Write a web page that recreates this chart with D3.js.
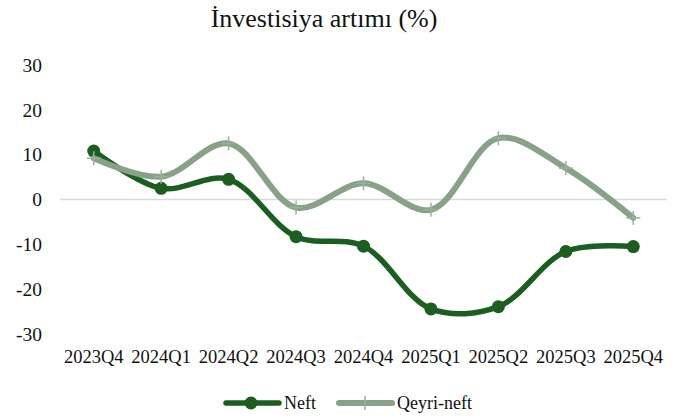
<!DOCTYPE html>
<html>
<head>
<meta charset="utf-8">
<script src="https://cdn.jsdelivr.net/npm/d3@7"></script>
<style>
  body { margin: 0; background: #fff; }
  text { font-family: "Liberation Serif", "Times New Roman", serif; fill: #111; }
</style>
</head>
<body>
<div id="chart"></div>
<script>
const quarters = ["2023Q4", "2024Q1", "2024Q2", "2024Q3", "2024Q4", "2025Q1", "2025Q2", "2025Q3", "2025Q4"];
const neft = [10.8, 2.5, 4.5, -8.3, -10.4, -24.4, -23.9, -11.6, -10.5];
const qeyriNeft = [9.2, 5.1, 12.5, -1.8, 3.6, -2.3, 13.7, 7.0, -4.1];
const yTicks = [30, 20, 10, 0, -10, -20, -30];

const width = 678;
const height = 419;

const svg = d3.select("#chart").append("svg")
    .attr("width", width)
    .attr("height", height);

const x = d3.scaleBand()
    .domain(quarters)
    .range([60, 667]);

const y = d3.scaleLinear()
    .domain([-30, 30])
    .range([334, 65]);

// title
svg.append("text")
    .attr("x", 324)
    .attr("y", 27)
    .attr("text-anchor", "middle")
    .style("font-size", "26px")
    .text("İnvestisiya artımı (%)");

// y labels (no axis line, just numbers)
svg.append("g")
    .selectAll("text")
    .data(yTicks)
    .enter().append("text")
    .attr("x", 42)
    .attr("y", d => y(d))
    .attr("dy", "0.35em")
    .attr("text-anchor", "end")
    .style("font-size", "19.5px")
    .text(d => d);

// zero line
svg.append("line")
    .attr("x1", 60)
    .attr("x2", 667)
    .attr("y1", y(0))
    .attr("y2", y(0))
    .attr("stroke", "#d9d9d9")
    .attr("stroke-width", 1.5);

// x labels
svg.append("g")
    .selectAll("text")
    .data(quarters)
    .enter().append("text")
    .attr("x", d => x(d) + x.bandwidth() / 2)
    .attr("y", 357)
    .attr("dy", "0.35em")
    .attr("text-anchor", "middle")
    .style("font-size", "18.5px")
    .text(d => d);

const line = d3.line()
    .x((d, i) => x(quarters[i]) + x.bandwidth() / 2)
    .y(d => y(d))
    .curve(d3.curveCatmullRom.alpha(0.5));

const darkGreen = "#1b5e20";
const lightGreen = "#88a288";

// Neft
svg.append("path")
    .datum(neft)
    .attr("d", line)
    .attr("fill", "none")
    .attr("stroke", darkGreen)
    .attr("stroke-width", 5.5)
    .attr("stroke-linecap", "round");

svg.append("g")
    .selectAll("circle")
    .data(neft)
    .enter().append("circle")
    .attr("cx", (d, i) => x(quarters[i]) + x.bandwidth() / 2)
    .attr("cy", d => y(d))
    .attr("r", 6.5)
    .attr("fill", darkGreen);

// Qeyri-neft
svg.append("path")
    .datum(qeyriNeft)
    .attr("d", line)
    .attr("fill", "none")
    .attr("stroke", lightGreen)
    .attr("stroke-width", 6)
    .attr("stroke-linecap", "round");

const plus = svg.append("g")
    .selectAll("g")
    .data(qeyriNeft)
    .enter().append("g")
    .attr("transform", (d, i) => "translate(" + (x(quarters[i]) + x.bandwidth() / 2) + "," + y(d) + ")");

plus.append("line")
    .attr("x1", 0).attr("x2", 0).attr("y1", -7).attr("y2", 7)
    .attr("stroke", "#9bb09b").attr("stroke-width", 1.5);
plus.append("line")
    .attr("x1", -7).attr("x2", 7).attr("y1", 0).attr("y2", 0)
    .attr("stroke", "#9bb09b").attr("stroke-width", 1.5);

// legend
const legend = svg.append("g").attr("transform", "translate(0,403)");

legend.append("line")
    .attr("x1", 226).attr("x2", 279)
    .attr("stroke", darkGreen).attr("stroke-width", 5.5).attr("stroke-linecap", "round");
legend.append("circle")
    .attr("cx", 251).attr("r", 6.5).attr("fill", darkGreen);
legend.append("text")
    .attr("x", 284).attr("dy", "0.35em")
    .style("font-size", "18px")
    .text("Neft");

legend.append("line")
    .attr("x1", 339).attr("x2", 392)
    .attr("stroke", lightGreen).attr("stroke-width", 6).attr("stroke-linecap", "round");
legend.append("line")
    .attr("x1", 365).attr("x2", 365).attr("y1", -7).attr("y2", 7)
    .attr("stroke", "#9bb09b").attr("stroke-width", 1.5);
legend.append("text")
    .attr("x", 397).attr("dy", "0.35em")
    .style("font-size", "18px")
    .text("Qeyri-neft");
</script>
</body>
</html>
